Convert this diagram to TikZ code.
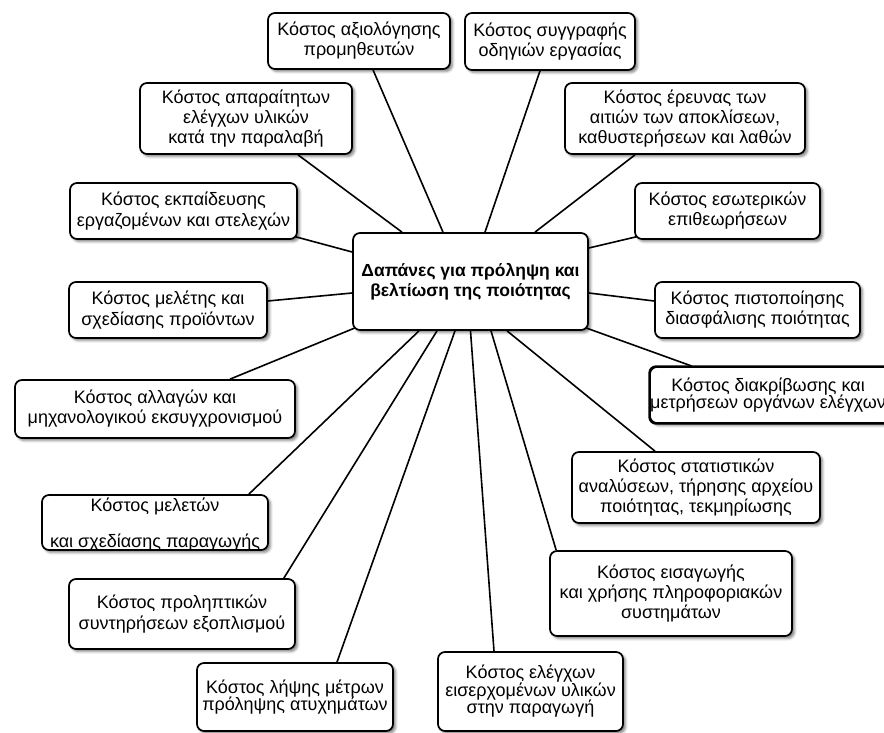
\documentclass[tikz,border=0pt]{standalone}
\usepackage{fontspec}
\setmainfont{Liberation Sans}
\usetikzlibrary{shadows.blur}
\pgfdeclarelayer{links}
\pgfsetlayers{links,main}

\begin{document}
\begin{tikzpicture}[x=1pt,y=-1pt,
  boxline/.style={draw=black, line width=1.7pt, rounded corners=7pt},
  box/.style={boxline, fill=white, align=center, inner sep=0pt,
    font=\fontsize{18}{20}\selectfont,
    blur shadow={shadow xshift=2.5pt, shadow yshift=-2.5pt,
                 shadow blur radius=2.5pt, shadow opacity=50}},
  tight/.style={font=\fontsize{18}{17.5}\selectfont},
  roomy/.style={font=\fontsize{18}{21.5}\selectfont},
  boxtext/.style={align=center, inner sep=0pt},
  link/.style={line width=1.6pt, draw=black},
]
\useasboundingbox (0,0) rectangle (884,733);

% central box
\node[box, minimum width=235pt, minimum height=97pt, font=\fontsize{17.5}{20}\selectfont\bfseries]
  (ctr) at (470.5,281.5) {Δαπάνες για πρόληψη και\\βελτίωση της ποιότητας};

% surrounding cost boxes
\node[box, minimum width=182pt, minimum height=56pt] (A) at (359,41)
  {Κόστος αξιολόγησης\\προμηθευτών};
\node[box, minimum width=212pt, minimum height=71pt] (B) at (246,118.5)
  {Κόστος απαραίτητων\\ελέγχων υλικών\\κατά την παραλαβή};
\node[box, roomy, minimum width=227pt, minimum height=56pt] (C) at (183.5,211)
  {Κόστος εκπαίδευσης\\εργαζομένων και στελεχών};
\node[box, minimum width=170pt, minimum height=57pt] (D) at (550,41.5)
  {Κόστος συγγραφής\\οδηγιών εργασίας};
\node[box, minimum width=240pt, minimum height=71pt] (E) at (685,118.5)
  {Κόστος έρευνας των\\αιτιών των αποκλίσεων,\\καθυστερήσεων και λαθών};
\node[box, minimum width=185pt, minimum height=56pt] (F) at (727.5,211)
  {Κόστος εσωτερικών\\επιθεωρήσεων};
\node[box, roomy, minimum width=198pt, minimum height=56pt] (G) at (168,310)
  {Κόστος μελέτης και\\σχεδίασης προϊόντων};
\node[box, minimum width=280pt, minimum height=58pt] (H) at (155,409)
  {Κόστος αλλαγών και\\μηχανολογικού εκσυγχρονισμού};
\node[box, minimum width=205pt, minimum height=56pt] (I) at (757.5,310)
  {Κόστος πιστοποίησης\\διασφάλισης ποιότητας};
\node[box, minimum width=248pt, minimum height=71pt] (K) at (696,487.5)
  {Κόστος στατιστικών\\αναλύσεων, τήρησης αρχείου\\ποιότητας, τεκμηρίωσης};
\node[box, minimum width=226pt, minimum height=55pt, font=\fontsize{18}{18}\selectfont, text depth=0pt] (L) at (155,522.5)
  {Κόστος μελετών\\[18pt]και σχεδίασης παραγωγής};
\node[box, roomy, minimum width=226pt, minimum height=70pt] (M) at (182,614)
  {Κόστος προληπτικών\\συντηρήσεων εξοπλισμού};
\node[box, tight, minimum width=196pt, minimum height=68pt] (N) at (295,697)
  {Κόστος λήψης μέτρων\\πρόληψης ατυχημάτων};
\node[box, minimum width=242pt, minimum height=85pt] (O) at (671,593.5)
  {Κόστος εισαγωγής\\και χρήσης πληροφοριακών\\συστημάτων};
\node[box, tight, minimum width=185pt, minimum height=79pt] (P) at (530.5,691.5)
  {Κόστος ελέγχων\\εισερχομένων υλικών\\στην παραγωγή};

% box running off the right edge, its wider second line cut by the border
\node[box, minimum width=250pt, minimum height=56pt] (J) at (775,395) {};
\begin{scope}
  \clip[rounded corners=7pt] (J.south west) rectangle (J.north east);
  \node[boxtext, tight] (Jtext) at ([xshift=-7pt]J.center)
    {Κόστος διακρίβωσης και\\μετρήσεων οργάνων ελέγχων};
\end{scope}
\draw[boxline] (J.south west) rectangle (J.north east);

% spokes from the central box
\begin{pgfonlayer}{links}
\draw[link] ([xshift=-27.5pt]ctr.north) -- ([xshift=14pt]A.south);
\draw[link] ([xshift=-68.5pt]ctr.north) -- ([xshift=52pt]B.south);
\draw[link] ([xshift=14.5pt]ctr.north) -- ([xshift=-10pt]D.south);
\draw[link] ([xshift=64.5pt]ctr.north) -- ([xshift=-50pt]E.south);
\draw[link] ([yshift=29.5pt]ctr.west) -- ([xshift=-2pt,yshift=3pt]C.south east);
\draw[link] ([yshift=33.5pt]ctr.east) -- ([xshift=2pt,yshift=3pt]F.south west);
\draw[link] ([yshift=-11.5pt]ctr.west) -- ([yshift=9pt]G.east);
\draw[link] ([yshift=-11.5pt]ctr.east) -- ([yshift=9pt]I.west);
\draw[link] ([xshift=3pt,yshift=3pt]ctr.south west) -- ([xshift=75pt]H.north);
\draw[link] ([xshift=-3pt,yshift=3pt]ctr.south east) -- ([xshift=-83pt]J.north);
\draw[link] ([xshift=36.5pt]ctr.south) -- ([xshift=-41pt]K.north);
\draw[link] ([xshift=-51.5pt]ctr.south) -- ([xshift=-20pt]L.north east);
\draw[link] ([xshift=-33.5pt]ctr.south) -- ([xshift=-12pt]M.north east);
\draw[link] ([xshift=-15.5pt]ctr.south) -- ([xshift=42pt]N.north);
\draw[link] (ctr.south) -- ([xshift=-36.5pt]P.north);
\draw[link] ([xshift=20.5pt]ctr.south) -- ([xshift=7pt]O.north west);
\end{pgfonlayer}
\end{tikzpicture}
\end{document}
